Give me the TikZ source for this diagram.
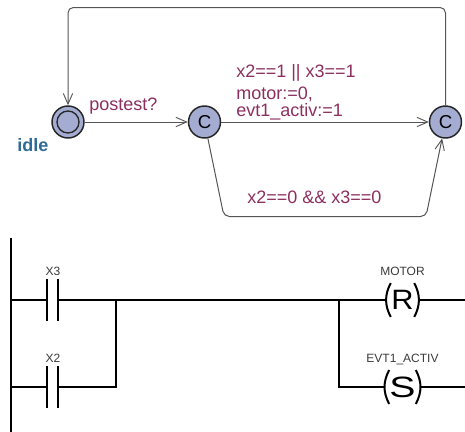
\documentclass[tikz,border=0pt]{standalone}
\usepackage{fontspec}
\setmainfont{Liberation Sans}
\usetikzlibrary{arrows.meta,positioning}
\definecolor{cLoc}{HTML}{A4ACD2}
\definecolor{cEdge}{HTML}{555555}
\definecolor{cLbl}{HTML}{8C2F5F}
\definecolor{cName}{HTML}{2E6C97}
\definecolor{cTag}{HTML}{3A3A3A}
\tikzset{
  loc/.style={circle,fill=cLoc,draw=black!85,line width=1.1pt,inner sep=0pt,minimum size=24pt,font=\fontsize{14}{14}\selectfont},
  inner/.style={circle,draw=black!85,line width=1pt,inner sep=0pt,minimum size=16.5pt},
  edg/.style={line width=.75pt,cEdge,rounded corners=4pt},
  arr/.style={edg,-{Straight Barb[length=8pt,width=7pt,line width=.7pt]}},
  lbl/.style={anchor=base west,inner sep=0pt,text=cLbl,font=\fontsize{13.5}{13.5}\selectfont},
  wire/.style={line width=1.5pt,black},
  contact/.style={rectangle,inner sep=0pt,minimum width=7.9pt,minimum height=30.5pt},
  coil/.style={rectangle,inner sep=0pt,minimum width=17.25pt,minimum height=25pt,font=\fontsize{21}{21}\selectfont},
  tag/.style={anchor=base,inner sep=0pt,text=cTag,font=\fontsize{9}{9}\selectfont},
}
\begin{document}
\begin{tikzpicture}[x=.75pt,y=-.75pt]
  \useasboundingbox (0,0) rectangle (465,432);
  % ---------------- automaton
  \node[loc] (idle) at (68,122) {};
  \node[inner] (idleIn) at (idle) {};
  \node[loc] (c1) at (204.5,122) {C};
  \node[loc] (c2) at (445.5,122) {C};
  \coordinate (topL) at (68,7.5);
  \coordinate (topR) at (445.5,7.5);
  \coordinate (botL) at (224,216.5);
  \coordinate (botR) at (426,216.5);
  \draw[arr] (idle) -- (c1);
  \draw[arr] (c1) -- (c2);
  \draw[arr] (c2) -- (topR) -- (topL) -- (idle);
  \draw[arr] (c1) -- (botL) -- (botR) -- (c2);
  \node[lbl] at (89,110) {postest?};
  \node[lbl] at (236,77.7) {x2==1 || x3==1};
  \node[lbl] at (236,99) {motor:=0,};
  \node[lbl] at (236,116.7) {evt1\_activ:=1};
  \node[lbl] at (247,203.7) {x2==0 \&\& x3==0};
  \node[lbl,text=cName,font=\fontsize{13.5}{13.5}\selectfont\bfseries] at (17,151) {idle};
  % ---------------- ladder
  \coordinate (railT) at (11,238);
  \coordinate (railB) at (11,432);
  \coordinate (r1L) at (11,300);
  \coordinate (r2L) at (11,387);
  \coordinate (j1) at (116,300);
  \coordinate (j2) at (116,387);
  \coordinate (j3) at (339,300);
  \coordinate (j4) at (339,387);
  \coordinate (r1R) at (465,300);
  \coordinate (r2R) at (465,387);
  \node[contact] (x3) at (52.5,300) {};
  \node[contact] (x2) at (52.5,387) {};
  \node[coil] (mR) at (402.5,300) {\scalebox{1.1}[1]{R}};
  \node[coil] (mS) at (402.5,387) {\scalebox{1.4}[1.05]{S}};
  \foreach \n in {x3,x2}{
    \draw[wire] (\n.north west) -- (\n.south west);
    \draw[wire] (\n.north east) -- (\n.south east);
  }
  \foreach \n in {mR,mS}{
    \draw[wire] (\n.north west) to[bend right=28] (\n.south west);
    \draw[wire] (\n.north east) to[bend left=28] (\n.south east);
  }
  \draw[wire] (railT) -- (railB);
  \draw[wire] (r1L) -- (x3.west) (x3.east) -- (j1) -- (j3) -- ([xshift=-3pt]mR.west) ([xshift=3pt]mR.east) -- (r1R);
  \draw[wire] (r2L) -- (x2.west) (x2.east) -- (j2) -- (j1);
  \draw[wire] (j3) -- (j4) -- ([xshift=-3pt]mS.west) ([xshift=3pt]mS.east) -- (r2R);
  \node[tag] at (53,275) {X3};
  \node[tag] at (53,362.7) {X2};
  \node[tag] at (402.5,275) {MOTOR};
  \node[tag] at (402.5,362.5) {EVT1\_ACTIV};
\end{tikzpicture}
\end{document}
